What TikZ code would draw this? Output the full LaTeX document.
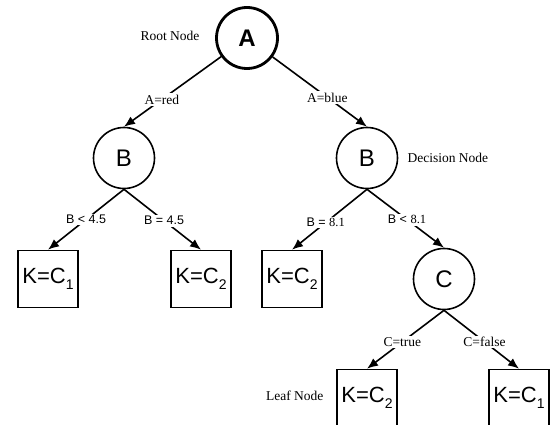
\documentclass[tikz,border=0pt]{standalone}
\usepackage{fontspec}
\setmainfont{Liberation Serif}
\setsansfont{Liberation Sans}
\usetikzlibrary{arrows.meta}
\newcommand{\kc}[1]{K=C\raisebox{-0.28em}{\fontsize{14}{14}\selectfont #1}}
\tikzset{
  circ/.style={circle, draw, line width=1.6pt, minimum size=61pt, inner sep=0pt, font=\sffamily\fontsize{24}{24}\selectfont},
  leafbox/.style={rectangle, draw, line width=1.6pt, minimum width=60pt, minimum height=57pt, inner sep=0pt, font=\sffamily\fontsize{22}{22}\selectfont},
  edge/.style={line width=1.6pt, -{Latex[length=11pt,width=9pt]}},
  lab/.style={fill=white, inner sep=1.5pt, font=\fontsize{13.5}{13.5}\selectfont},
  slab/.style={lab, font=\sffamily\fontsize{12.5}{12.5}\selectfont},
  note/.style={font=\fontsize{13.5}{13.5}\selectfont}
}
\begin{document}
\begin{tikzpicture}[x=1pt,y=-1pt]
\clip (0,0) rectangle (552,425);
\useasboundingbox (0,0) rectangle (552,425);
\node[circ, line width=2.8pt, font=\sffamily\bfseries\fontsize{24}{24}\selectfont] (A) at (247,38) {A};
\node[circ] (Bl) at (124,158) {B};
\node[circ] (Br) at (367,158) {B};
\node[circ] (C) at (444,279) {C};
\node[leafbox] (L1) at (48,279) {\kc{1}};
\node[leafbox] (L2) at (201,279) {\kc{2}};
\node[leafbox] (L3) at (292,279) {\kc{2}};
\node[leafbox] (L4) at (367,398) {\kc{2}};
\node[leafbox] (L5) at (519,398) {\kc{1}};
\node[note, anchor=east] (rootlab) at (203,36) {Root Node};
\node[note, anchor=west] (declab) at (404,158) {Decision Node};
\node[note, anchor=east] (leaflab) at (327,396) {Leaf Node};
\draw[edge] (A) -- node[lab, pos=0.61] {A=red} (Bl.north);
\draw[edge] (A) -- node[lab, pos=0.58] {A=blue} (Br.north);
\draw[edge] (Bl.south) -- node[slab, pos=0.5] {B < 4.5} (L1.north);
\draw[edge] (Bl.south) -- node[slab, pos=0.52] {B = 4.5} (L2.north);
\draw[edge] (Br.south) -- node[slab, pos=0.55] {B = \rmfamily 8.1} (L3.north);
\draw[edge] (Br.south) -- node[slab, pos=0.52] {B < \rmfamily 8.1} (C.north);
\draw[edge] (C.south) -- node[lab, pos=0.54] {C=true} (L4.north);
\draw[edge] (C.south) -- node[lab, pos=0.54] {C=false} (L5.north);
\end{tikzpicture}
\end{document}
